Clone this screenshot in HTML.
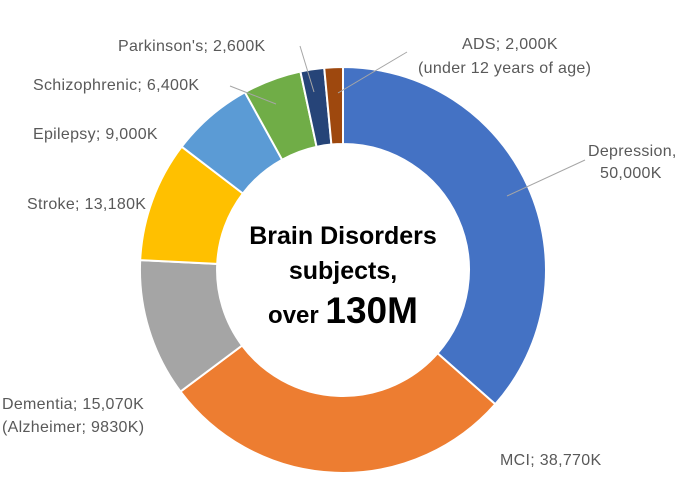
<!DOCTYPE html>
<html><head><meta charset="utf-8"><style>
html,body{margin:0;padding:0;background:#fff;}
svg{display:block;font-family:"Liberation Sans","Noto Sans CJK SC",sans-serif;}
.l{font-size:16px;fill:#595959;letter-spacing:0.3px;}
.ld{stroke:#a6a6a6;stroke-width:1;fill:none;}
</style></head><body>
<svg width="687" height="478" viewBox="0 0 687 478" xmlns="http://www.w3.org/2000/svg">
<g stroke="#fff" stroke-width="2">
<path fill="#4472C4" d="M343,67 A203,203 0 0 1 495.3,404.2 L437.5,353.3 A126,126 0 0 0 343,144 Z"/>
<path fill="#ED7D31" d="M495.3,404.2 A203,203 0 0 1 180.5,391.6 L242.1,345.5 A126,126 0 0 0 437.5,353.3 Z"/>
<path fill="#A5A5A5" d="M180.5,391.6 A203,203 0 0 1 140.2,260.1 L217.2,263.9 A126,126 0 0 0 242.1,345.5 Z"/>
<path fill="#FFC000" d="M140.2,260.1 A203,203 0 0 1 181.7,146.7 L242.9,193.5 A126,126 0 0 0 217.2,263.9 Z"/>
<path fill="#5B9BD5" d="M181.7,146.7 A203,203 0 0 1 244.9,92.3 L282.1,159.7 A126,126 0 0 0 242.9,193.5 Z"/>
<path fill="#70AD47" d="M244.9,92.3 A203,203 0 0 1 300.4,71.5 L316.6,146.8 A126,126 0 0 0 282.1,159.7 Z"/>
<path fill="#264478" d="M300.4,71.5 A203,203 0 0 1 324.2,67.9 L331.4,144.5 A126,126 0 0 0 316.6,146.8 Z"/>
<path fill="#9E480E" d="M324.2,67.9 A203,203 0 0 1 343,67 L343,144 A126,126 0 0 0 331.4,144.5 Z"/>
</g>
<path class="ld" d="M507,196 L585,160"/>
<path class="ld" d="M230,86 L276,104"/>
<path class="ld" d="M300,46 L314,92"/>
<path class="ld" d="M407,52 L338,93"/>
<text class="l" x="588" y="156">Depression,</text>
<text class="l" x="600" y="178">50,000K</text>
<text class="l" x="500" y="465">MCI; 38,770K</text>
<text class="l" x="2" y="409">Dementia; 15,070K</text>
<text class="l" x="2" y="432">(Alzheimer; 9830K)</text>
<text class="l" x="27" y="209">Stroke; 13,180K</text>
<text class="l" x="33" y="139">Epilepsy; 9,000K</text>
<text class="l" x="33" y="90">Schizophrenic; 6,400K</text>
<text class="l" x="118" y="51">Parkinson's; 2,600K</text>
<text class="l" x="462" y="49">ADS; 2,000K</text>
<text class="l" x="418" y="73">(under 12 years of age)</text>
<text x="343" y="244" text-anchor="middle" font-size="25" font-weight="bold" fill="#000">Brain Disorders</text>
<text x="343" y="279" text-anchor="middle" font-size="25" font-weight="bold" fill="#000">subjects,</text>
<text x="343" y="323" text-anchor="middle" font-weight="bold" fill="#000"><tspan font-size="24">over </tspan><tspan font-size="37">130M</tspan></text>
</svg>
</body></html>
